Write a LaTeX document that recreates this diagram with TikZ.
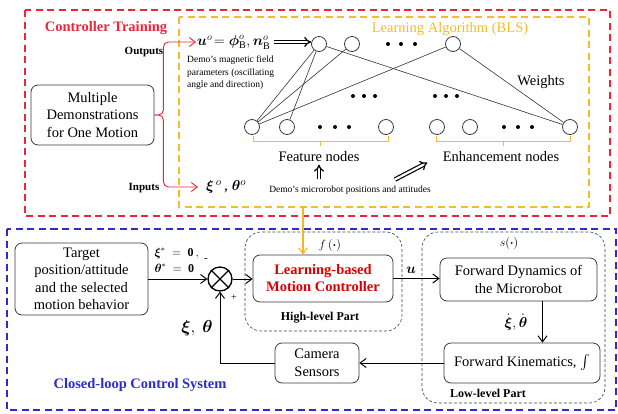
\documentclass[tikz,border=0pt]{standalone}
\usepackage{amsmath,amssymb}
\usepackage{fontspec}
\setmainfont{Liberation Serif}
\usepackage{tikz}
\usetikzlibrary{arrows.meta, positioning, calc}

\definecolor{trainred}{HTML}{E8283A}
\definecolor{loopblue}{HTML}{2B2BCF}
\definecolor{blsyellow}{HTML}{F2BC2C}
\definecolor{boxgray}{HTML}{3A3A3A}

\begin{document}
\begin{tikzpicture}[x=1pt, y=-1pt,
    every node/.style={font=\fontsize{14.5}{17.5}\selectfont},
    blk/.style={draw=boxgray, line width=0.8pt, rounded corners=7pt, align=center, inner sep=2pt},
    neuron/.style={circle, draw=boxgray, line width=0.8pt, fill=white, minimum size=15pt, inner sep=0pt},
    wire/.style={draw=black!80, line width=0.6pt},
    sig/.style={line width=1pt, -{Straight Barb[length=6pt,width=9pt]}},
    redarr/.style={trainred, line width=0.9pt, rounded corners=5pt, -{Straight Barb[length=6pt,width=9pt]}},
    hollow/.style={line width=1.2pt, double, double distance=2.2pt, -{Implies}},
    part/.style={draw=black!75, dash pattern=on 3pt off 2pt, line width=0.6pt, rounded corners=16pt},
    small/.style={font=\fontsize{9.5}{12.5}\selectfont, align=left, inner sep=0pt},
    tag/.style={font=\bfseries\fontsize{11}{13}\selectfont},
    parttag/.style={font=\bfseries\fontsize{12}{14}\selectfont},
    title/.style={font=\bfseries\fontsize{14.5}{17}\selectfont},
    brace/.style={blsyellow, line width=0.8pt}]
\useasboundingbox (0,0) rectangle (618,413);

% frames
\draw[trainred, line width=1.3pt, dash pattern=on 7pt off 4.5pt] (25,10) rectangle (610,216);
\draw[blsyellow, line width=1.2pt, dash pattern=on 7pt off 4.5pt] (179,17) rectangle (589,207);
\draw[loopblue, line width=1.3pt, dash pattern=on 7pt off 4.5pt] (7,229) rectangle (616,410);
\draw[part] (245,232) rectangle (402,331);
\draw[part] (422,232) rectangle (605,403);

% controller training
\node[title, text=trainred] (trainlbl) at (106,28) {Controller Training};
\node[font=\fontsize{14.5}{17}\selectfont, text=blsyellow] (blslbl) at (450,29) {Learning Algorithm (BLS)};
\node[blk, minimum width=123pt, minimum height=60pt] (demo) at (92.5,115) {Multiple\\Demonstrations\\for One Motion};
\node[tag] (outlbl) at (144,52) {Outputs};
\node[tag] (inlbl) at (144,188) {Inputs};
\node[anchor=west, inner sep=1pt] (uo) at (196,42) {$\boldsymbol{u}^{o}\! = \boldsymbol{\phi}^{o}_{\mathrm{B}}, \boldsymbol{n}^{o}_{\mathrm{B}}$};
\node[anchor=west, inner sep=1pt, font=\fontsize{15.5}{17}\selectfont] (xo) at (205,187) {$\boldsymbol{\xi}^{\,o}$\,,\ $\boldsymbol{\theta}^{o}$};
\node[small, anchor=north west] (magtxt) at (187,56) {Demo’s magnetic field\\parameters (oscillating\\angle and direction)};
\node[small] (mic) at (350,190) {Demo’s microrobot positions and attitudes};

\draw[redarr] (demo.east) -- ++(9,0) |- (uo.west);
\draw[redarr, shorten >=7pt] (demo.east) -- ++(9,0) |- (xo.west);

% network
\node[neuron] (t1) at (319,44) {};
\node[neuron] (t2) at (352,44) {};
\node[neuron] (t3) at (453,44) {};
\node[neuron] (f1) at (252,127) {};
\node[neuron] (f2) at (287,127) {};
\node[neuron] (f3) at (386,127) {};
\node[neuron] (e1) at (437,127) {};
\node[neuron] (e2) at (470,127) {};
\node[neuron] (e3) at (570,127) {};
\foreach \a/\b in {f1/t1, f2/t1, f1/t2, f1/t3, t1/e3, t3/e3}
    \draw[wire] (\a) -- (\b);
\foreach \x/\y in {388/44, 401/44, 415/44, 353/96, 364/96, 375/96, 435/96, 446/96, 457/96,
                   320/127, 335/127, 349/127, 504/127, 518/127, 532/127}
    \fill (\x,\y) circle (2pt);
\draw[hollow, shorten <=2pt] (uo.east) -- (uo.east -| t1.west);
\node (wlbl) at (541,82) {Weights};

\draw[brace] (253,136) -- (253,141) -- (388,141) -- (388,136) (320,141) -- (320,146);
\draw[brace] (436,136) -- (436,141) -- (570,141) -- (570,136) (503,141) -- (503,146);
\node (featlbl) at (319,157) {Feature nodes};
\node (enhlbl) at (501,157) {Enhancement nodes};
\draw[hollow] ([yshift=6pt]mic.north -| featlbl) -- ([yshift=1pt]featlbl.south);
\draw[hollow] ([xshift=45pt,yshift=6pt]mic.north) -- ([xshift=-12pt,yshift=3pt]enhlbl.south west);

% closed loop
\node[blk, minimum width=133pt, minimum height=72pt] (target) at (81.5,279) {Target\\position/attitude\\and the selected\\motion behavior};
\node[circle, draw, line width=1.3pt, minimum size=24pt, inner sep=0pt] (sum) at (220,279) {};
\draw[line width=1.3pt] (sum.north east) -- (sum.south west) (sum.north west) -- (sum.south east);
\node[blk, minimum width=140pt, minimum height=47pt, text=red!85!black, font=\bfseries\fontsize{14.5}{17}\selectfont] (ctrl) at (323,278.5) {Learning-based\\Motion Controller};
\node[blk, minimum width=157pt, minimum height=43pt] (dyn) at (518.5,279.5) {Forward Dynamics of\\the Microrobot};
\node[blk, minimum width=156pt, minimum height=40pt] (kin) at (522,363) {Forward Kinematics, $\int$};
\node[blk, minimum width=84pt, minimum height=40pt] (cam) at (317,363) {Camera\\Sensors};

\node[anchor=west, font=\fontsize{12}{14}\selectfont] (xref) at (151,253) {$\boldsymbol{\xi}^{*}\ =\ \mathbf{0}\,,$};
\node[anchor=west, font=\fontsize{12}{14}\selectfont] (tref) at (151,268) {$\boldsymbol{\theta}^{*}\ =\ \mathbf{0}$};
\node[font=\fontsize{11}{13}\selectfont] (minus) at (206,260) {-};
\node[font=\fontsize{10}{12}\selectfont] (plus) at (234,298) {+};
\node[font=\fontsize{16}{18}\selectfont] (fb) at (197,328) {$\boldsymbol{\xi},\ \boldsymbol{\theta}$};
\node[font=\fontsize{15}{17}\selectfont] (ulbl) at (411,270) {$\boldsymbol{u}$};
\node[font=\fontsize{13}{15}\selectfont] (flbl) at (330,245) {$f\,(\boldsymbol{\cdot})$};
\node[font=\fontsize{13}{15}\selectfont] (slbl) at (509,243) {$s(\boldsymbol{\cdot})$};
\node[font=\fontsize{15}{17}\selectfont, inner sep=1pt] (dlbl) at (516,322) {$\dot{\boldsymbol{\xi}},\dot{\boldsymbol{\theta}}$};
\node[parttag] (hilbl) at (320,318) {High-level Part};
\node[parttag] (lolbl) at (488,393) {Low-level Part};
\node[title, text=loopblue] (looplbl) at (140,385) {Closed-loop Control System};

\coordinate (blsbot) at (303,207);
\draw[blsyellow!90!orange, line width=1.1pt, -{Straight Barb[length=6pt,width=9pt]}] (blsbot) -- (blsbot |- ctrl.north);
\draw[sig] (target.east) -- (sum.west);
\draw[sig] (sum.east) -- (sum.east -| ctrl.west);
\draw[sig] (ctrl.east) -- (ctrl.east -| dyn.west);
\draw[sig] ([xshift=24pt]dyn.south) -- ([xshift=24pt]dyn.south |- kin.north);
\draw[sig] (kin.west) -- (cam.east);
\draw[sig] (cam.west) -| (sum.south);
\end{tikzpicture}
\end{document}
